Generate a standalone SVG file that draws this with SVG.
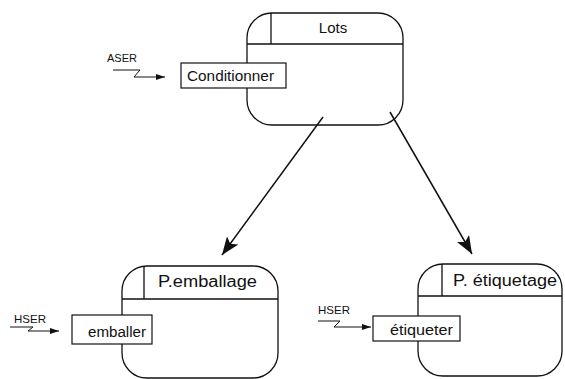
<svg xmlns="http://www.w3.org/2000/svg" width="565" height="379" viewBox="0 0 565 379">
<style>
.box{fill:#fff;stroke:#111;stroke-width:1.3}
.ln{fill:none;stroke:#111;stroke-width:1.3}
.op{fill:#fff;stroke:#111;stroke-width:1.2}
.t{font-family:"Liberation Sans",Arial,sans-serif;fill:#111}
.edge{fill:none;stroke:#111;stroke-width:1.5}
.ev{fill:none;stroke:#111;stroke-width:1}
</style>
<defs>
<marker id="big" markerUnits="userSpaceOnUse" markerWidth="20" markerHeight="14" refX="18" refY="7" orient="auto">
<path d="M0,0 L18,7 L0,14 L4,7 Z" fill="#111"/>
</marker>
<marker id="small" markerUnits="userSpaceOnUse" markerWidth="10" markerHeight="6" refX="9" refY="3" orient="auto">
<path d="M0,0 L9,3 L0,6 Z" fill="#111"/>
</marker>
</defs>
<g id="lots">
<rect class="box" x="247" y="13" width="156" height="112" rx="25"/>
<path class="ln" d="M247,44 H403 M271,13 V44"/>
<text class="t" x="333" y="33" font-size="15" text-anchor="middle">Lots</text>
<rect class="op" x="181" y="63" width="105" height="25"/>
<text class="t" x="187" y="81" font-size="14" textLength="87" lengthAdjust="spacingAndGlyphs">Conditionner</text>
</g>
<g id="p-emballage">
<rect class="box" x="122" y="266" width="156" height="112" rx="25"/>
<path class="ln" d="M122,299 H278 M144,266 V299"/>
<text class="t" x="158" y="287" font-size="16" textLength="99" lengthAdjust="spacingAndGlyphs">P.emballage</text>
<rect class="op" x="72" y="315" width="80" height="29"/>
<text class="t" x="88" y="337" font-size="14" textLength="58" lengthAdjust="spacingAndGlyphs">emballer</text>
</g>
<g id="p-etiquetage">
<rect class="box" x="418" y="264" width="144" height="112" rx="25"/>
<path class="ln" d="M418,296 H562 M442,264 V296"/>
<text class="t" x="453" y="286" font-size="16" textLength="104" lengthAdjust="spacingAndGlyphs">P. étiquetage</text>
<rect class="op" x="373" y="316" width="87" height="25"/>
<text class="t" x="390" y="335" font-size="14" textLength="63" lengthAdjust="spacingAndGlyphs">étiqueter</text>
</g>
<g id="connectors">
<line class="edge" x1="323" y1="117" x2="222" y2="255" marker-end="url(#big)"/>
<line class="edge" x1="390" y1="112" x2="472" y2="254" marker-end="url(#big)"/>
<path class="ev" d="M113,70 H140 L134,77 H165" marker-end="url(#small)"/>
<text class="t" x="107" y="62" font-size="11">ASER</text>
<path class="ev" d="M10,327 H33 L28,331 H59" marker-end="url(#small)"/>
<text class="t" x="14" y="323" font-size="11.5">HSER</text>
<path class="ev" d="M318,321 H340 L334,327 H371" marker-end="url(#small)"/>
<text class="t" x="318" y="314" font-size="11.5">HSER</text>
</g>
</svg>
